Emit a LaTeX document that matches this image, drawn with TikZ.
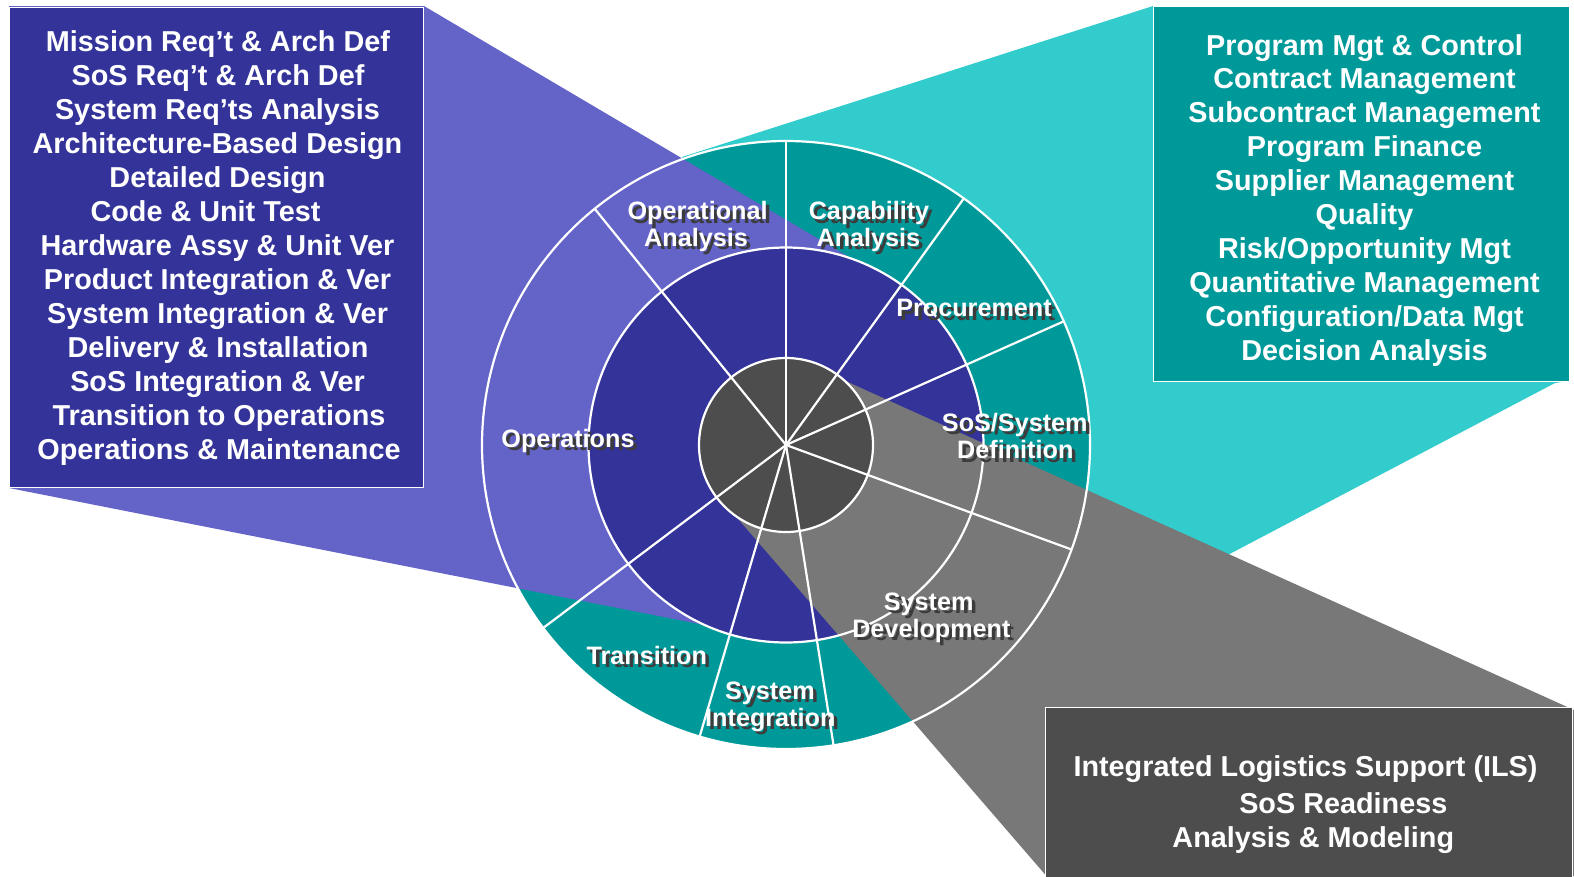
\documentclass[tikz,border=0pt]{standalone}
\usepackage{fontspec}
\setmainfont{Liberation Sans}
\definecolor{dkblue}{HTML}{333399}
\definecolor{ltpurple}{HTML}{6363C8}
\definecolor{tealc}{HTML}{009999}
\definecolor{cyanc}{HTML}{33CCCC}
\definecolor{grayw}{HTML}{787878}
\definecolor{dkgray}{HTML}{4D4D4D}
\definecolor{shadowc}{HTML}{3C3C3C}
\newcommand\shlbl[4]{%
  \node[lbl, text=shadowc] (#1s) at (#2+3.5,#3+3.5) {#4};
  \node[lbl] (#1) at (#2,#3) {#4};}
\newcommand\btxt[4]{\node[boxtxt] (#1) at (#2,#3) {#4};}
\begin{document}
\begin{tikzpicture}[x=1pt,y=-1pt,
  lbl/.style={font=\bfseries\fontsize{25.2}{26}\selectfont, text=white, inner sep=0pt, anchor=base},
  boxtxt/.style={font=\bfseries\fontsize{28.8}{34}\selectfont, text=white, inner sep=0pt, anchor=base},
  ring/.style={draw=white, line width=2.2pt},
  spoke/.style={draw=white, line width=2.2pt},
  box/.style={draw=white, line width=0.9pt}]
\useasboundingbox (0,0) rectangle (1574,876);
\coordinate (c) at (786,445);
% callout wedges and discs
\fill[cyanc] (1153,6) -- (682,157) -- (786,445) -- (927,713) -- (1555,383) -- (1569,381) -- (1569,6) -- cycle;
\fill[tealc] (c) circle[radius=304];
\fill[ltpurple] (9,6) -- (424,6) -- (900,287) -- (786,445) -- (760,636) -- (9,488) -- cycle;
\fill[dkblue] (c) circle[radius=197.5];
\fill[grayw] (1574,710) -- (830,374) -- (786,445) -- (720,498) -- (1046.4,876) -- (1574,876) -- cycle;
\fill[dkgray] (c) circle[radius=87];
% spokes and rings
\foreach \a in {-90,-54.2,-24,20.1,81,106.5,-217,-129}
  \draw[spoke] (c) -- ++(\a:304);
\draw[ring] (c) circle[radius=304];
\draw[ring] (c) circle[radius=197.5];
\draw[ring] (c) circle[radius=87];
% segment labels
\shlbl{oa1}{697.6}{219.8}{Operational}
\shlbl{oa2}{696}{246.3}{Analysis}
\shlbl{ca1}{869}{219.8}{Capability}
\shlbl{ca2}{868.4}{246.3}{Analysis}
\shlbl{pr}{974}{316.8}{Procurement}
\shlbl{sd1}{1014.8}{431.3}{SoS/System}
\shlbl{sd2}{1015.3}{458.6}{Definition}
\shlbl{op}{568}{447.4}{Operations}
\shlbl{dv1}{928.6}{610.1}{System}
\shlbl{dv2}{931.4}{637}{Development}
\shlbl{tr}{646.8}{664}{Transition}
\shlbl{si1}{769.9}{699}{System}
\shlbl{si2}{770.3}{726}{Integration}
% boxes
\draw[box, fill=dkblue] (9,7) rectangle (423,487);
\draw[box, fill=tealc] (1153,6) rectangle (1569,381);
\draw[box, fill=dkgray] (1045,707) rectangle (1572,882);
% left box text
\btxt{l1}{218}{51.7}{Mission Req’t \& Arch Def}
\btxt{l2}{218}{85.7}{SoS Req’t \& Arch Def}
\btxt{l3}{217.5}{119.7}{System Req’ts Analysis}
\btxt{l4}{217.5}{153.7}{Architecture-Based Design}
\btxt{l5}{217.5}{187.7}{Detailed Design}
\btxt{l6}{205.5}{221.7}{Code \& Unit Test}
\btxt{l7}{217.5}{255.7}{Hardware Assy \& Unit Ver}
\btxt{l8}{217.5}{289.7}{Product Integration \& Ver}
\btxt{l9}{217.5}{323.7}{System Integration \& Ver}
\btxt{l10}{218}{357.7}{Delivery \& Installation}
\btxt{l11}{217.5}{391.7}{SoS Integration \& Ver}
\btxt{l12}{219}{425.7}{Transition to Operations}
\btxt{l13}{219}{459.7}{Operations \& Maintenance}
% right box text
\btxt{r1}{1364.5}{55}{Program Mgt \& Control}
\btxt{r2}{1364.5}{88.9}{Contract Management}
\btxt{r3}{1364.5}{122.8}{Subcontract Management}
\btxt{r4}{1364.5}{156.7}{Program Finance}
\btxt{r5}{1364.5}{190.6}{Supplier Management}
\btxt{r6}{1364.5}{224.5}{Quality}
\btxt{r7}{1364.5}{258.4}{Risk/Opportunity Mgt}
\btxt{r8}{1364.5}{292.3}{Quantitative Management}
\btxt{r9}{1364.5}{326.2}{Configuration/Data Mgt}
\btxt{r10}{1364.5}{360.1}{Decision Analysis}
% bottom box text
\btxt{b1}{1305.5}{776}{Integrated Logistics Support (ILS)}
\btxt{b2}{1343.3}{813.3}{SoS Readiness}
\btxt{b3}{1313.3}{847.3}{Analysis \& Modeling}
\end{tikzpicture}
\end{document}
